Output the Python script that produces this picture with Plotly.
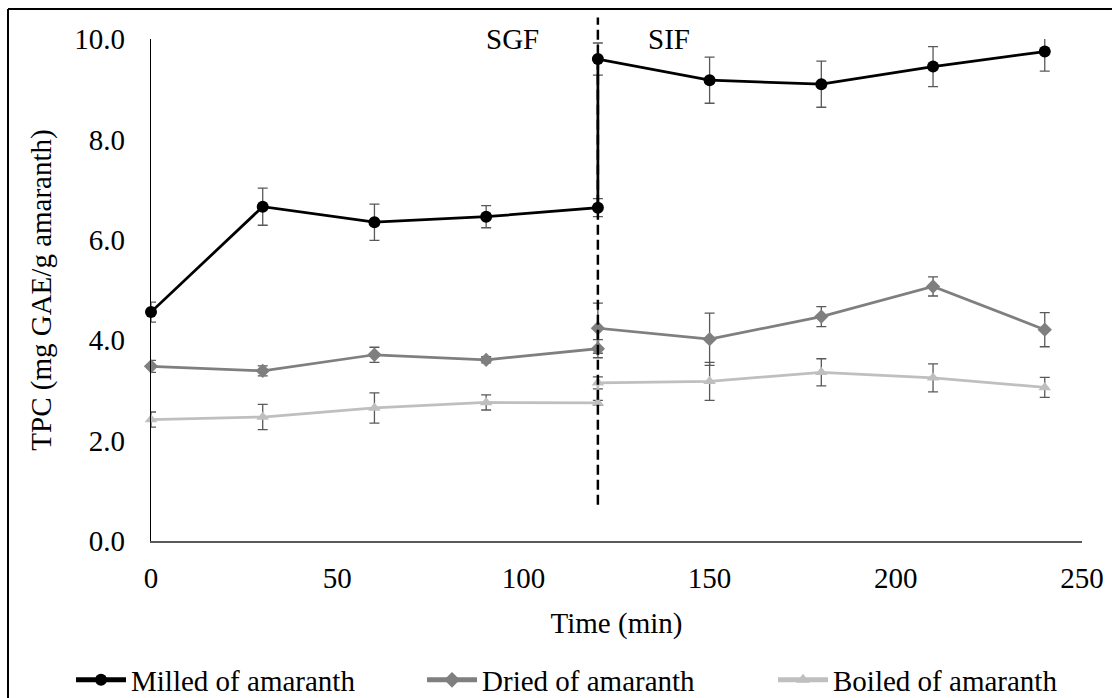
import plotly.graph_objects as go

# ---------------- data ----------------
time_min = [0, 30, 60, 90, 120, 120, 150, 180, 210, 240]
milled = [4.56, 6.66, 6.35, 6.46, 6.64, 9.60, 9.18, 9.10, 9.45, 9.75]
milled_err = [0.20, 0.37, 0.36, 0.22, 0.18, 0.32, 0.46, 0.46, 0.40, 0.39]
dried = [3.48, 3.39, 3.71, 3.61, 3.83, 4.24, 4.02, 4.47, 5.07, 4.21]
dried_err = [0.12, 0.10, 0.15, 0.06, 0.18, 0.50, 0.52, 0.20, 0.19, 0.34]
boiled = [2.42, 2.47, 2.65, 2.76, 2.75, 3.15, 3.18, 3.36, 3.25, 3.06]
boiled_err = [0.15, 0.25, 0.30, 0.15, 0.05, 0.12, 0.38, 0.27, 0.28, 0.20]
series_names = ["Milled of amaranth", "Dried of amaranth", "Boiled of amaranth"]
phase_boundary = 120
phase_labels = ["SGF", "SIF"]
y_ticks = [0, 2, 4, 6, 8, 10]
x_ticks = [0, 50, 100, 150, 200, 250]

FONT = "Liberation Serif, Times New Roman, serif"
FS = 29
ERR_COLOR = "#595959"

fig = go.Figure()

styles = [
    (milled, milled_err, "#000000", "circle", 12),
    (dried, dried_err, "#7f7f7f", "diamond", 11),
    (boiled, boiled_err, "#bfbfbf", "triangle-up", 11),
]
for name, (vals, errs, col, sym, sz) in zip(series_names, styles):
    fig.add_trace(go.Scatter(
        x=time_min, y=vals, name=name, mode="lines+markers",
        line=dict(color=col, width=2.75),
        marker=dict(color=col, symbol=sym, size=sz),
        error_y=dict(type="data", array=errs, visible=True,
                     color=ERR_COLOR, thickness=1.3, width=5),
        cliponaxis=False,
    ))

# phase boundary (dashed vertical line), vertical extent relative to plot area
fig.add_shape(type="line", xref="x", yref="paper",
              x0=phase_boundary, x1=phase_boundary, y0=0.072, y1=1.043,
              line=dict(color="#000000", width=2.5, dash="10px,5px"))

# outer border: only top and left edges fall inside the picture
fig.add_shape(type="line", xref="paper", yref="paper",
              x0=-0.1536, x1=1.0322, y0=1.0598, y1=1.0598,
              line=dict(color="#000000", width=2), layer="above")
fig.add_shape(type="line", xref="paper", yref="paper",
              x0=-0.1536, x1=-0.1536, y0=-0.3127, y1=1.0598,
              line=dict(color="#000000", width=2), layer="above")

fig.add_annotation(x=97, y=10.0, xref="x", yref="y", text=phase_labels[0],
                   showarrow=False, font=dict(family=FONT, size=FS, color="#000"))
fig.add_annotation(x=139, y=10.0, xref="x", yref="y", text=phase_labels[1],
                   showarrow=False, font=dict(family=FONT, size=FS, color="#000"))

fig.update_layout(
    width=1112, height=698,
    margin=dict(l=151, r=30, t=39, b=157, autoexpand=False),
    paper_bgcolor="white", plot_bgcolor="white",
    font=dict(family=FONT, size=FS, color="#000000"),
    showlegend=True,
    legend=dict(orientation="h", x=-0.0859, xanchor="left",
                y=-0.2769, yanchor="middle",
                font=dict(family=FONT, size=FS, color="#000000"),
                itemsizing="constant", itemwidth=50, tracegroupgap=0,
                entrywidth=286, entrywidthmode="pixels",
                bgcolor="rgba(0,0,0,0)"),
    xaxis=dict(range=[0, 250], tickvals=x_ticks, ticktext=[str(v) for v in x_ticks],
               showgrid=False, zeroline=False, showline=True,
               linecolor="#595959", linewidth=1.5, ticks="",
               ticklabelstandoff=10, automargin=False,
               title=dict(text="Time (min)", standoff=20,
                          font=dict(family=FONT, size=FS, color="#000"))),
    yaxis=dict(range=[0, 10], tickvals=y_ticks,
               ticktext=[f"{v:.1f}" for v in y_ticks],
               showgrid=False, zeroline=False, showline=True,
               linecolor="#000000", linewidth=1.2, ticks="",
               ticklabelstandoff=19, automargin=False,
               title=dict(text="TPC (mg GAE/g amaranth)", standoff=14,
                          font=dict(family=FONT, size=FS, color="#000"))),
)

fig.write_html("out.html", config={"displayModeBar": False},
               post_script="document.body.style.margin='0px';")
